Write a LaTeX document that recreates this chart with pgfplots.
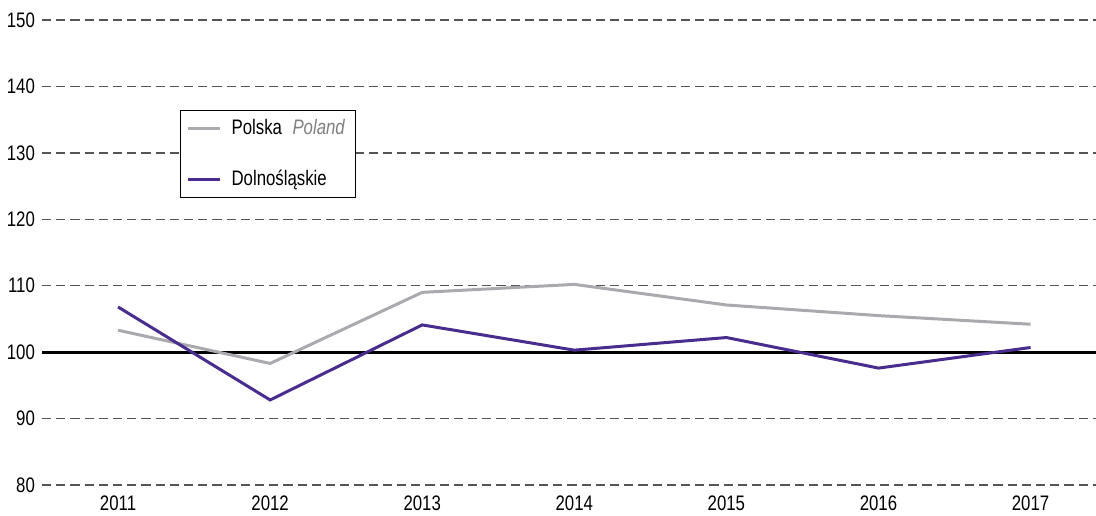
\documentclass[border=0pt]{standalone}
\usepackage{fontspec}
\setmainfont{Liberation Sans}[FakeStretch=0.8]
\usepackage{pgfplots}
\pgfplotsset{compat=1.18}
\definecolor{polgray}{RGB}{170,170,174}
\definecolor{dolpurp}{RGB}{72,44,142}
\definecolor{gridc}{RGB}{85,85,85}
\begin{document}
\begin{tikzpicture}
\begin{axis}[
  scale only axis,
  width=527pt, height=232.5pt,
  xmin=2010.5, xmax=2017.43,
  ymin=80, ymax=150,
  ytick={80,90,...,150},
  xtick={2011,...,2017},
  axis line style={draw=none},
  major tick length=0pt,
  ymajorgrids,
  grid style={gridc, line width=0.65pt, dash pattern=on 4.6pt off 2.5pt},
  font=\fontsize{10.5}{12}\selectfont,
  /pgf/number format/assume math mode=true,
  /pgf/number format/1000 sep={},
  yticklabel style={anchor=east, xshift=0pt},
  xticklabel style={anchor=north, yshift=-2pt},
  clip=false,
  legend style={at={(0.131,0.806)}, anchor=north west, draw=black, line width=0.5pt,
    font=\fontsize{10.5}{12}\selectfont, row sep=12pt, inner xsep=3pt, inner ysep=2.5pt,
    cells={anchor=west}},
  legend cell align=left,
  legend image code/.code={\draw[#1, line width=1.5pt] (0pt,0pt) -- (16pt,0pt);},
]
\addplot[black, line width=1.5pt, forget plot] coordinates {(2010.5,100) (2017.43,100)};
\addplot[polgray, line width=1.5pt] coordinates {
(2011,103.3) (2012,98.3) (2013,109.0) (2014,110.2) (2015,107.1) (2016,105.5) (2017,104.2)};
\addlegendentry{\hspace{3pt}Polska\hspace{0.5em}\textcolor{gray}{\textit{Poland}}\hspace{6pt}}
\addplot[dolpurp, line width=1.5pt] coordinates {
(2011,106.8) (2012,92.8) (2013,104.1) (2014,100.3) (2015,102.2) (2016,97.6) (2017,100.7)};
\addlegendentry{\hspace{3pt}Dolnośląskie}
\end{axis}
\pgfresetboundingbox
\path[use as bounding box] (-21pt,-15pt) rectangle (527pt,242.5pt);
\end{tikzpicture}
\end{document}
